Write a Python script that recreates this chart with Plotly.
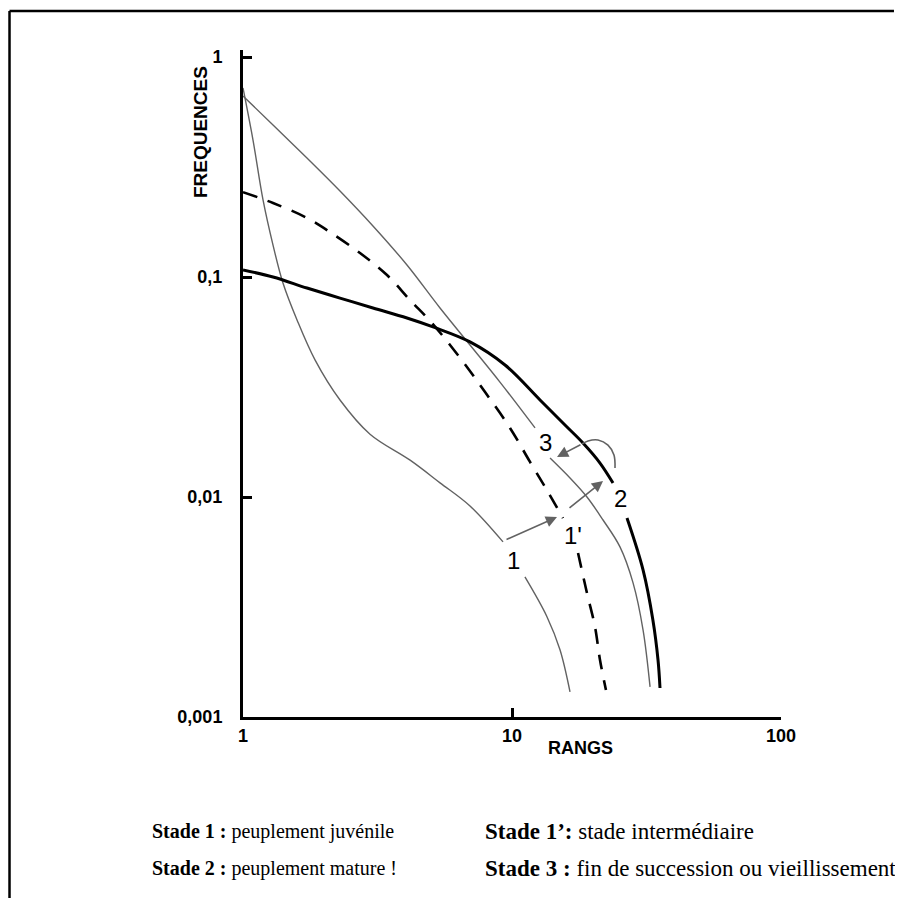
import math
import plotly.graph_objects as go

# ---- data (rank, frequency) ----
# Stade 1 : steep S-shaped curve (thin grey); None = gap for label
rank_s1 = [1.0, 1.089, 1.187, 1.293, 1.408, 1.588, 1.852, 2.294, 2.966, 4.18, 5.40, 6.98, 9.26,
           None, 11.17, 13.5, 15.08, 16.43]
freq_s1 = [0.723, 0.42, 0.224, 0.1396, 0.0939, 0.0638, 0.0420, 0.0276, 0.0193, 0.0147, 0.0116, 0.0091, 0.00625,
           None, 0.00433, 0.00285, 0.00202, 0.0013]

# Stade 1' : dashed curve
rank_s1b = [1.0, 1.293, 1.729, 2.106, 2.722, 3.43, 4.18, 5.04, 6.41, 7.94, 9.83, 11.67, 13.61, 15.47,
            None, 17.6, 19.0, 20.35, 21.24, 22.35]
freq_s1b = [0.243, 0.217, 0.1855, 0.160, 0.1285, 0.1021, 0.0785, 0.0618, 0.0429, 0.0300, 0.0206, 0.01443, 0.01054, 0.00802,
            None, 0.00557, 0.00366, 0.00257, 0.001816, 0.001327]

# Stade 2 : thick black curve
rank_s2 = [1.0, 1.293, 1.729, 2.294, 3.042, 4.07, 5.085, 6.98, 9.42, 12.71, 15.74, 18.36, 21.24, 23.74,
           None, 26.76, 30.7, 33.4, 34.9, 35.5]
freq_s2 = [0.1076, 0.1, 0.0891, 0.0802, 0.0723, 0.0651, 0.0593, 0.0507, 0.0398, 0.0276, 0.02124, 0.0176, 0.01427, 0.01158,
           None, 0.00802, 0.00466, 0.00276, 0.001816, 0.001355]

# Stade 3 : thin grey, nearly straight at the top
rank_s3 = [1.0, 1.293, 1.729, 2.294, 3.042, 4.07, 5.40, 6.98, 9.02, 12.18,
           None, 13.85, 16.43, 19.0, 21.8, 25.2, 28.2, 30.7, 32.6]
freq_s3 = [0.665, 0.491, 0.3475, 0.246, 0.1706, 0.1134, 0.0723, 0.0491, 0.0333, 0.0206,
           None, 0.01503, 0.0122, 0.01, 0.00786, 0.00593, 0.00406, 0.00249, 0.00137]

# curved arrow from 2 back to 3
rank_arc = [24.15, 23.94, 22.74, 20.88, 19.17, 18.2]
freq_arc = [0.01355, 0.01553, 0.01722, 0.01816, 0.01798, 0.01742]

# curve labels
labels = ["1", "1'", "2", "3"]
label_rank = [10.1, 16.9, 25.4, 13.3]
label_freq = [0.00512, 0.00665, 0.0098, 0.0176]

# straight arrows (tail rank, tail freq, head rank, head freq)
arrows = [
    (9.42, 0.00637, 14.7, 0.00811),
    (16.15, 0.00882, 21.8, 0.01183),
    (18.2, 0.01742, 14.7, 0.0152),
]

xtick_vals = [1, 10, 100]
xtick_text = ["1", "10", "100"]
ytick_vals = [0.001, 0.01, 0.1, 1]
ytick_text = ["0,001", "0,01", "0,1", "1"]

legend_rows = [
    ("Stade 1 :", "peuplement juvénile", "Stade 1’:", "stade intermédiaire"),
    ("Stade 2 :", "peuplement mature !", "Stade 3 :", "fin de succession ou vieillissement"),
]

GREY = "#626262"
fig = go.Figure()
fig.add_trace(go.Scatter(x=rank_s1, y=freq_s1, mode="lines", line=dict(color=GREY, width=1.4, shape="spline"),
                         connectgaps=False, hoverinfo="skip"))
fig.add_trace(go.Scatter(x=rank_s3, y=freq_s3, mode="lines", line=dict(color=GREY, width=1.4, shape="spline"),
                         connectgaps=False, hoverinfo="skip"))
fig.add_trace(go.Scatter(x=rank_s1b, y=freq_s1b, mode="lines",
                         line=dict(color="black", width=2.6, dash="15px,11px", shape="spline"),
                         connectgaps=False, hoverinfo="skip"))
fig.add_trace(go.Scatter(x=rank_s2, y=freq_s2, mode="lines", line=dict(color="black", width=3, shape="spline"),
                         connectgaps=False, hoverinfo="skip"))
fig.add_trace(go.Scatter(x=rank_arc, y=freq_arc, mode="lines", line=dict(color=GREY, width=1.6, shape="spline"),
                         hoverinfo="skip"))

ann = []
for t, xr, yf in zip(labels, label_rank, label_freq):
    ann.append(dict(x=math.log10(xr), y=math.log10(yf), xref="x", yref="y", text=t, showarrow=False,
                    xanchor="center", yanchor="middle",
                    font=dict(family="Liberation Sans, Arial", size=24, color="black")))
for (x0, y0, x1, y1) in arrows:
    ann.append(dict(x=math.log10(x1), y=math.log10(y1), ax=math.log10(x0), ay=math.log10(y0),
                    xref="x", yref="y", axref="x", ayref="y", text="", showarrow=True,
                    arrowhead=2, arrowsize=1.4, arrowwidth=1.6, arrowcolor=GREY))

# axis titles
ann.append(dict(x=-0.0799, y=0.877, xref="paper", yref="paper", text="<b>FREQUENCES</b>", textangle=-90,
                xanchor="center", yanchor="middle", showarrow=False,
                font=dict(family="Liberation Sans, Arial", size=19, color="black")))
ann.append(dict(x=0.6264, y=-0.046, xref="paper", yref="paper", text="<b>RANGS</b>",
                xanchor="center", yanchor="middle", showarrow=False,
                font=dict(family="Liberation Sans, Arial", size=18, color="black")))

# bottom legend text
row_y = [-0.1724, -0.2264]
for (b1, t1, b2, t2), yy in zip(legend_rows, row_y):
    ann.append(dict(x=-0.1729, y=yy, xref="paper", yref="paper", xanchor="left", yanchor="middle",
                    text=f"<b>{b1}</b> {t1}", showarrow=False,
                    font=dict(family="Liberation Serif, Times New Roman", size=20, color="black")))
    ann.append(dict(x=0.446, y=yy, xref="paper", yref="paper", xanchor="left", yanchor="middle",
                    text=f"<b>{b2}</b> {t2}", showarrow=False,
                    font=dict(family="Liberation Serif, Times New Roman", size=23, color="black")))

axis_font = dict(family="Liberation Sans, Arial", size=18, color="black", weight="bold")
frame = dict(color="black", width=2.5)
fig.update_layout(
    width=887, height=890,
    margin=dict(l=235, r=114, t=42, b=181),
    paper_bgcolor="white", plot_bgcolor="white",
    showlegend=False,
    annotations=ann,
    shapes=[
        dict(type="line", xref="paper", yref="paper", x0=-0.434, x1=1.21, y0=1.0585, y1=1.0585, line=frame),
        dict(type="line", xref="paper", yref="paper", x0=-0.434, x1=-0.434, y0=1.0585, y1=-0.35, line=frame),
    ],
    xaxis=dict(type="log", range=[0, 2], showline=True, linewidth=3, linecolor="black",
               ticks="inside", ticklen=9, tickwidth=2.5, tickcolor="black",
               tickvals=xtick_vals, ticktext=xtick_text, tickfont=axis_font,
               showgrid=False, zeroline=False, ticklabelstandoff=0),
    yaxis=dict(type="log", range=[-3, 0.0318], showline=True, linewidth=3, linecolor="black",
               ticks="inside", ticklen=9, tickwidth=2.5, tickcolor="black",
               tickvals=ytick_vals, ticktext=ytick_text, tickfont=axis_font,
               showgrid=False, zeroline=False, ticklabelstandoff=14),
)

fig.write_html("out.html")
